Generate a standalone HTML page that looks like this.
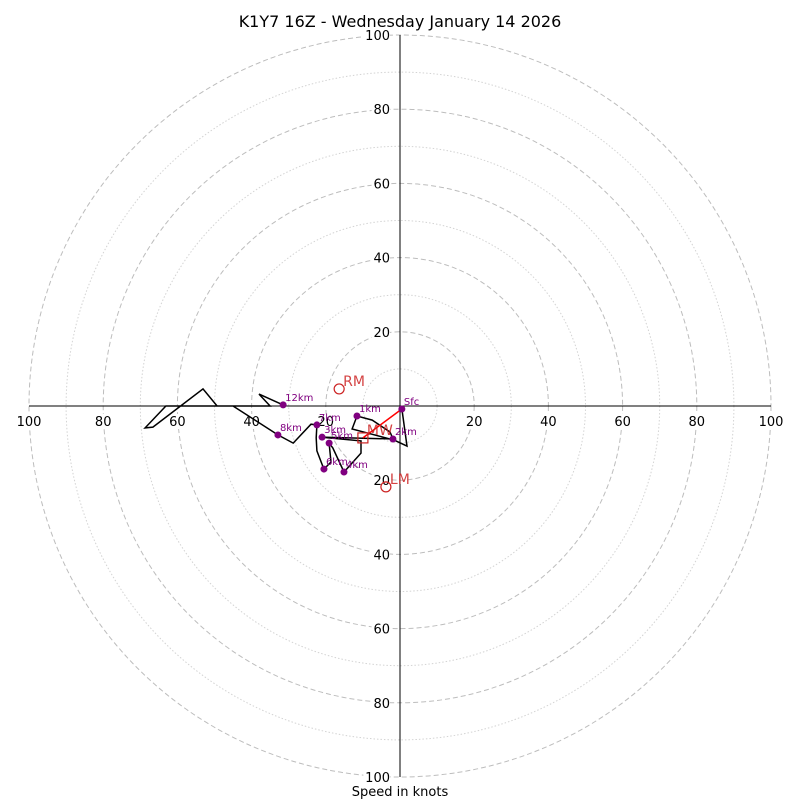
<!DOCTYPE html>
<html><head><meta charset="utf-8"><style>
body{margin:0;background:#fff}
svg{display:block;font-family:"DejaVu Sans","Liberation Sans",sans-serif}
</style></head><body>
<svg id="chart" width="800" height="800" viewBox="0 0 800 800">
<rect width="800" height="800" fill="#fff"/>
<text x="400" y="27" text-anchor="middle" font-size="16">K1Y7 16Z - Wednesday January 14 2026</text>
<g id="rings"></g>
<g id="ticks"></g>
<g id="axes"></g>
<g id="series"></g>
<text x="400" y="796" text-anchor="middle" font-size="13">Speed in knots</text>
</svg>
<script>
const ringSpeeds = [10,20,30,40,50,60,70,80,90,100];
const tickLabels = [20,40,60,80,100];
const pathU = [0.5,1.9,-1.6,-12.9,-11.6,-7.5,-2.7,-1.9,-20.2,-21.0,-10.5,-10.5,-15.1,-18.1,-19.1,-18.6,-20.5,-22.4,-22.6,-22.4,-24.0,-28.8,-32.9,-45.0,-63.1,-68.7,-66.6,-53.1,-49.3,-35.0,-38.0,-31.5];
const pathV = [-0.8,-10.8,-9.2,-6.2,-2.7,-3.8,-7.0,-8.9,-8.4,-8.4,-9.4,-12.7,-17.8,-11.3,-10.0,-15.1,-17.0,-12.1,-8.6,-5.1,-4.9,-10.0,-7.8,0,0,-5.9,-5.7,4.6,0,0,3.2,0.3];
const markerNames = ['Sfc','1km','2km','3km','4km','5km','6km','7km','8km','12km'];
const markerU = [0.5,-11.6,-1.9,-21.0,-15.1,-19.1,-20.5,-22.4,-32.9,-31.5];
const markerV = [-0.8,-2.7,-8.9,-8.4,-17.8,-10.0,-17.0,-5.1,-7.8,0.3];
const motionNames = ['RM','LM','MW'];
const motionU = [-16.4,-3.8,-10.0];
const motionV = [4.6,-21.8,-8.6];

const CX=400, CY=406, R=371, MAXS=100;
const sx = u => CX + u/MAXS*R;
const sy = v => CY - v/MAXS*R;
const NS='http://www.w3.org/2000/svg';
function mk(tag, attrs, parent){const e=document.createElementNS(NS,tag);for(const k in attrs)e.setAttribute(k,attrs[k]);parent.appendChild(e);return e;}
const rings=document.getElementById('rings'), axes=document.getElementById('axes'), series=document.getElementById('series'), ticks=document.getElementById('ticks');

ringSpeeds.forEach(s=>{
  const major = s%20===0;
  const c=mk('circle',{cx:CX,cy:CY,r:s/MAXS*R,fill:'none',stroke:major?'#bdbdbd':'#d3d3d3','stroke-width':1,'stroke-dasharray':major?'5,3':'1.5,2'},rings);
  
  
});
let l=mk('line',{x1:sx(-100),y1:CY,x2:sx(100),y2:CY,stroke:'#000','stroke-width':1},axes);


l=mk('line',{x1:CX,y1:sy(100),x2:CX,y2:sy(-100),stroke:'#000','stroke-width':1},axes);



const d = pathU.map((u,i)=>(i?'L':'M')+sx(u).toFixed(1)+','+sy(pathV[i]).toFixed(1)).join(' ');
const p=mk('path',{d:d,fill:'none',stroke:'#000','stroke-width':1.5,'stroke-linejoin':'miter'},series);



const mwi = motionNames.indexOf('MW');
const ar=mk('line',{x1:sx(markerU[0]),y1:sy(markerV[0]),x2:sx(motionU[mwi]),y2:sy(motionV[mwi]),stroke:'#ff0000','stroke-width':1.5},series);



markerNames.forEach((n,i)=>{
  const x=sx(markerU[i]), y=sy(markerV[i]);
  const c=mk('circle',{cx:x,cy:y,r:3.5,fill:'#800080'},series);
  
  
  const t=mk('text',{x:x+2,y:y-4,'font-size':10,fill:'#800080'},series);
  t.textContent=n;
  
  
});

motionNames.forEach((n,i)=>{
  const x=sx(motionU[i]), y=sy(motionV[i]);
  let m;
  if(n==='MW') m=mk('rect',{x:x-5,y:y-5,width:10,height:10,fill:'none',stroke:'#cc2222','stroke-width':1.2},series);
  else m=mk('circle',{cx:x,cy:y,r:5,fill:'none',stroke:'#cc2222','stroke-width':1.2},series);
  
  
  const t=mk('text',{x:x+4,y:y-3,'font-size':14,fill:'#cc2222','fill-opacity':0.85},series);
  t.textContent=n;
  
  
});

tickLabels.forEach(s=>{
  [[sx(-s),CY+20],[sx(s),CY+20]].forEach(([x,y],k)=>{
    const w = String(s).length*8.2+4;
    const bg=mk('rect',{x:x-w/2,y:y-12,width:w,height:15,fill:'#fff'},ticks);
    
    
    const t=mk('text',{x:x,y:y,'font-size':13,'text-anchor':'middle'},ticks);
    t.textContent=s;
    
    
  });
  [sy(s),sy(-s)].forEach((y,k)=>{
    const w = String(s).length*8.2+2;
    const bg=mk('rect',{x:390-w,y:y-7,width:w,height:14,fill:'#fff'},ticks);
    
    
    const t=mk('text',{x:390,y:y+5,'font-size':13,'text-anchor':'end'},ticks);
    t.textContent=s;
    
    
  });
});
</script>
</body></html>
